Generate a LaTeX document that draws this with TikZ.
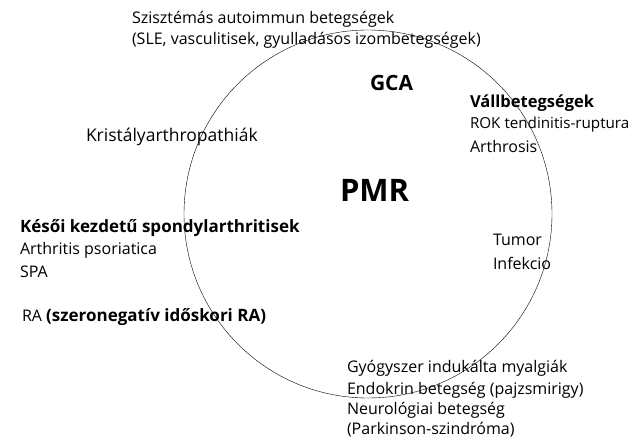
\documentclass[tikz,border=0pt]{standalone}
\usepackage{fontspec}
\setmainfont{Open Sans}
\usetikzlibrary{positioning}

\begin{document}
\begin{tikzpicture}[x=1pt,y=-1pt,
        every node/.style={txt},
        txt/.style={inner sep=0pt,outer sep=0pt,anchor=west,align=left,
          font=\fontsize{16}{21.5}\selectfont},
        head/.style={txt,font=\fontsize{16.5}{21.5}\selectfont\bfseries}]
   \useasboundingbox (0,0) rectangle (635,439);
   \draw (368,214) circle (184);
   \node (PMR) [head,font=\fontsize{31}{34}\selectfont\bfseries] at (340,190) {PMR};
   \node (GCA) [head,font=\fontsize{21}{24}\selectfont\bfseries] at (370,83) {GCA};

   \node (SYS) at (132,19) {Szisztémás autoimmun betegségek};
   \node (SYS2) at (132,40) {(SLE, vasculitisek, gyulladásos izombetegségek)};

   \node (VALL) [head] at (470,103) {Vállbetegségek};
   \node (ROK) [font=\fontsize{15.2}{21.5}\selectfont] at (470,125) {ROK tendinitis-ruptura};
   \node (ART) at (470,146) {Arthrosis};

   \node (KRIS) [font=\fontsize{17.5}{20}\selectfont] at (86,137) {Kristályarthropathiák};

   \node (SPON) [head,font=\fontsize{17}{21.5}\selectfont\bfseries] at (20,228) {Késői kezdetű spondylarthritisek};
   \node (PSO) at (20,250) {Arthritis psoriatica};
   \node (SPA) at (20,272) {SPA};

   \node (TUM) at (493,240) {Tumor};
   \node (INF) at (493,263) {Infekcio};

   \node (RA) at (22,317) {RA \fontsize{17}{21.5}\selectfont\textbf{(szeronegatív időskori RA)}};

   \node (GYO) at (347,368) {Gyógyszer indukálta myalgiák};
   \node (END) at (347,390) {Endokrin betegség (pajzsmirigy)};
   \node (NEU) at (347,410) {Neurológiai betegség};
   \node (PAR) at (347,430) {(Parkinson-szindróma)};
\end{tikzpicture}
\end{document}
